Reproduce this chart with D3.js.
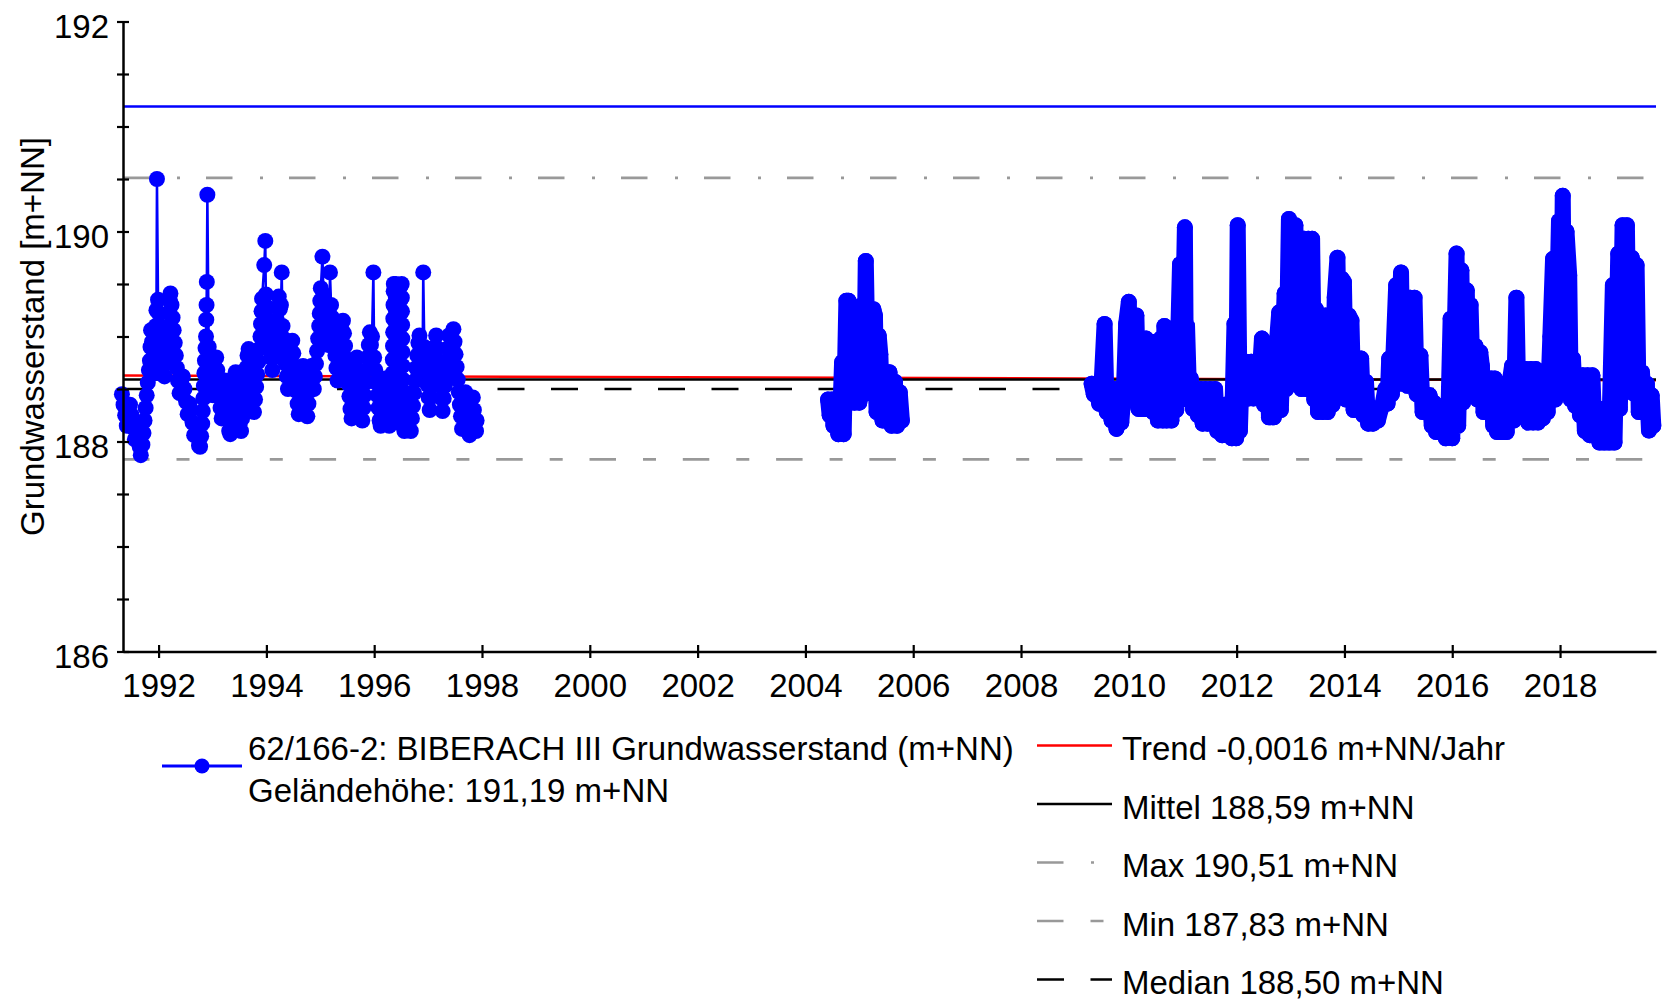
<!DOCTYPE html>
<html>
<head>
<meta charset="utf-8">
<script src="https://cdn.jsdelivr.net/npm/d3@7"></script>
<style>
  body { margin: 0; background: #fff; }
  svg { display: block; font-family: "Liberation Sans", Arial, sans-serif; }
</style>
</head>
<body>
<script>
/*
------------------------------
DATA: groundwater level 62/166-2 BIBERACH III, [decimal year, m+NN]
------------------------------
*/
// manual readings 1991-1997 (single high readings show as thin spikes)
const seg1991 = [
  [1991.32,188.45],[1991.35,188.35],[1991.38,188.25],[1991.41,188.15],[1991.44,188.25],[1991.47,188.35],
  [1991.50,188.25],[1991.53,188.13],[1991.56,188.02],[1991.59,188.12],[1991.62,188.05],[1991.65,187.95],
  [1991.67,187.87],[1991.70,187.97],[1991.72,188.08],[1991.74,188.20],[1991.76,188.32],[1991.78,188.44],
  [1991.80,188.56],[1991.82,188.68],[1991.84,188.77],[1991.85,188.90],[1991.86,189.06],[1991.88,188.95],
  [1991.90,188.80],[1991.92,188.65],[1991.93,188.80],[1991.94,188.95],[1991.95,189.10],[1991.96,189.25],
  [1991.97,190.50],[1991.99,189.35],
  [1992.01,189.22],[1992.03,189.10],[1992.05,188.98],[1992.07,188.86],[1992.09,188.74],[1992.11,188.62],
  [1992.13,188.74],[1992.15,188.86],[1992.17,188.98],[1992.19,189.10],[1992.20,189.22],[1992.21,189.34],
  [1992.22,189.41],[1992.24,189.30],[1992.26,189.18],[1992.28,189.06],[1992.30,188.94],[1992.32,188.82],
  [1992.34,188.70],[1992.36,188.58],[1992.39,188.46],[1992.42,188.56],[1992.45,188.62],[1992.48,188.50],
  [1992.51,188.38],[1992.54,188.26],[1992.57,188.36],[1992.60,188.30],[1992.63,188.18],[1992.66,188.06],
  [1992.69,188.16],[1992.72,188.06],[1992.75,187.96],[1992.77,187.95],[1992.79,188.05],[1992.81,188.17],
  [1992.82,188.29],[1992.83,188.41],[1992.84,188.53],[1992.85,188.65],[1992.86,188.77],[1992.87,188.89],
  [1992.88,189.00],[1992.885,189.16],[1992.89,189.30],[1992.895,189.52],[1992.905,190.35],[1992.93,188.90],
  [1992.95,188.78],[1992.97,188.66],[1992.99,188.54],[1993.01,188.44],[1993.03,188.56],[1993.05,188.70],
  [1993.07,188.80],[1993.09,188.68],[1993.11,188.56],[1993.13,188.44],[1993.15,188.32],[1993.17,188.22],
  [1993.19,188.34],[1993.21,188.46],[1993.23,188.58],[1993.25,188.46],[1993.27,188.34],[1993.29,188.22],
  [1993.31,188.10],[1993.33,188.07],[1993.35,188.18],[1993.37,188.30],[1993.39,188.42],[1993.41,188.54],
  [1993.43,188.66],[1993.45,188.54],[1993.47,188.42],[1993.49,188.30],[1993.51,188.18],[1993.53,188.10],
  [1993.55,188.22],[1993.57,188.34],[1993.59,188.46],[1993.61,188.58],[1993.63,188.70],[1993.65,188.82],
  [1993.67,188.88],[1993.69,188.76],[1993.71,188.64],[1993.73,188.52],[1993.75,188.40],[1993.77,188.28],
  [1993.79,188.40],[1993.81,188.52],[1993.83,188.64],[1993.85,188.76],[1993.87,188.88],[1993.89,189.00],
  [1993.90,189.12],[1993.91,189.24],[1993.92,189.36],[1993.96,189.68],[1993.98,189.91],[1993.99,189.40],
  [1994.01,189.28],[1994.03,189.16],[1994.05,189.04],[1994.07,188.92],[1994.09,188.80],[1994.11,188.68],
  [1994.13,188.80],[1994.15,188.92],[1994.17,189.04],[1994.19,189.16],[1994.21,189.28],[1994.23,189.38],
  [1994.25,189.26],[1994.27,189.30],[1994.285,189.61],[1994.30,189.10],[1994.32,188.98],[1994.34,188.86],
  [1994.36,188.74],[1994.38,188.62],[1994.40,188.50],[1994.42,188.62],[1994.44,188.74],[1994.46,188.86],
  [1994.48,188.96],[1994.50,188.84],[1994.52,188.72],[1994.54,188.60],[1994.56,188.48],[1994.58,188.36],
  [1994.60,188.26],[1994.62,188.38],[1994.64,188.50],[1994.66,188.62],[1994.68,188.72],[1994.70,188.60],
  [1994.72,188.48],[1994.74,188.36],[1994.76,188.24],[1994.78,188.36],[1994.80,188.48],[1994.82,188.60],
  [1994.84,188.72],[1994.86,188.60],[1994.88,188.50],[1994.90,188.62],[1994.92,188.74],[1994.94,188.86],
  [1994.96,188.98],[1994.98,189.10],[1994.99,189.22],[1995.00,189.34],[1995.01,189.46],[1995.04,189.76],
  [1995.06,189.40],[1995.08,189.28],[1995.10,189.16],[1995.12,189.04],[1995.14,188.92],[1995.16,189.04],
  [1995.17,189.20],[1995.18,189.61],[1995.20,189.30],[1995.22,189.18],[1995.24,189.06],[1995.26,188.94],
  [1995.28,188.82],[1995.30,188.70],[1995.32,188.58],[1995.34,188.70],[1995.36,188.82],[1995.38,188.94],
  [1995.40,189.06],[1995.42,189.15],[1995.44,189.03],[1995.46,188.91],[1995.48,188.79],[1995.50,188.67],
  [1995.52,188.55],[1995.54,188.43],[1995.56,188.31],[1995.58,188.22],[1995.60,188.34],[1995.62,188.46],
  [1995.64,188.58],[1995.66,188.70],[1995.68,188.80],[1995.70,188.68],[1995.72,188.56],[1995.74,188.44],
  [1995.76,188.32],[1995.78,188.20],[1995.80,188.32],[1995.82,188.44],[1995.84,188.56],[1995.86,188.68],
  [1995.88,188.80],[1995.90,188.92],[1995.92,189.04],[1995.94,188.92],[1995.96,189.00],[1995.985,189.61],
  [1996.00,188.80],[1996.02,188.68],[1996.04,188.56],[1996.06,188.44],[1996.08,188.32],[1996.10,188.20],
  [1996.12,188.15],[1996.14,188.27],[1996.16,188.39],[1996.18,188.51],[1996.20,188.60],[1996.22,188.48],
  [1996.24,188.36],[1996.26,188.24],[1996.28,188.15],[1996.30,188.27],[1996.32,188.39],
  [1996.340,188.52],[1996.343,188.65],[1996.346,188.78],[1996.349,188.91],[1996.352,189.04],[1996.355,189.17],
  [1996.358,189.30],[1996.361,189.43],[1996.364,189.50],
  [1996.400,189.50],[1996.403,189.37],[1996.406,189.24],[1996.409,189.11],[1996.412,188.98],[1996.415,188.85],
  [1996.418,188.72],[1996.421,188.59],[1996.424,188.46],[1996.427,188.33],[1996.430,188.20],[1996.433,188.18],
  [1996.460,188.18],[1996.463,188.31],[1996.466,188.44],[1996.469,188.57],[1996.472,188.70],[1996.475,188.83],
  [1996.478,188.96],[1996.481,189.09],[1996.484,189.22],[1996.487,189.35],[1996.490,189.48],
  [1996.510,189.50],[1996.513,189.37],[1996.516,189.24],[1996.519,189.11],[1996.522,188.98],[1996.525,188.85],
  [1996.528,188.72],[1996.531,188.59],[1996.534,188.46],[1996.537,188.33],[1996.540,188.20],
  [1996.56,188.10],[1996.58,188.22],[1996.60,188.34],[1996.62,188.46],[1996.64,188.34],[1996.66,188.22],
  [1996.68,188.10],[1996.70,188.22],[1996.72,188.34],[1996.74,188.46],[1996.76,188.58],[1996.78,188.70],
  [1996.80,188.82],[1996.82,188.94],[1996.84,189.01],[1996.86,188.89],[1996.88,188.77],[1996.90,188.90],
  [1996.91,189.61],[1996.93,188.90],[1996.95,188.78],[1996.97,188.66],[1996.99,188.54],[1997.01,188.42],
  [1997.03,188.30],[1997.05,188.42],[1997.07,188.54],[1997.09,188.66],[1997.11,188.78],[1997.13,188.90],
  [1997.15,189.01],[1997.17,188.89],[1997.19,188.77],[1997.21,188.65],[1997.23,188.53],[1997.25,188.41],
  [1997.27,188.29],[1997.29,188.41],[1997.31,188.53],[1997.33,188.65],[1997.35,188.77],[1997.37,188.89],
  [1997.39,189.01],[1997.41,188.89],[1997.43,188.77],[1997.45,188.89],[1997.47,189.07],[1997.49,188.95],
  [1997.51,188.83],[1997.53,188.71],[1997.55,188.59],[1997.57,188.47],[1997.59,188.35],[1997.61,188.24],
  [1997.63,188.12],[1997.65,188.24],[1997.67,188.36],[1997.69,188.47],[1997.71,188.36],[1997.73,188.24],
  [1997.75,188.12],[1997.77,188.06],[1997.79,188.18],[1997.81,188.30],[1997.83,188.42],[1997.85,188.30],
  [1997.87,188.18],[1997.89,188.10],[1997.90,188.20]
];

// logger readings 2004-2005 (dense, the dots merge into one band)
const seg2004 = [
  [2004.42,188.40],[2004.45,188.25],[2004.49,188.40],[2004.52,188.15],[2004.57,188.35],[2004.61,188.07],
  [2004.65,188.30],[2004.68,188.755],[2004.71,188.07],[2004.76,189.34],[2004.80,189.34],[2004.83,188.37],
  [2004.87,189.20],[2004.91,188.37],[2004.96,189.20],[2005.00,188.37],[2005.05,189.30],[2005.09,188.45],
  [2005.12,189.72],[2005.16,188.55],[2005.21,189.26],[2005.24,188.50],[2005.26,189.26],[2005.29,189.20],
  [2005.32,188.28],[2005.36,189.01],[2005.39,188.83],[2005.43,188.20],[2005.48,188.66],[2005.52,188.20],
  [2005.56,188.66],[2005.60,188.15],[2005.66,188.57],[2005.70,188.15],[2005.75,188.47],[2005.79,188.20]
];

// logger readings 2009-2019
const seg2009 = [
  [2009.31,188.55],[2009.35,188.45],[2009.40,188.53],[2009.45,188.36],[2009.50,188.60],[2009.55,189.12],
  [2009.59,188.28],[2009.64,188.50],[2009.68,188.20],[2009.73,188.50],[2009.77,188.12],[2009.82,188.50],
  [2009.86,188.18],[2009.91,188.50],[2009.95,189.12],[2010.00,189.33],[2010.03,188.50],[2010.08,189.20],
  [2010.11,188.50],[2010.14,189.20],[2010.18,188.31],[2010.23,188.98],[2010.27,188.31],[2010.32,188.98],
  [2010.36,188.31],[2010.41,188.95],[2010.45,188.28],[2010.50,188.95],[2010.54,188.20],[2010.59,188.98],
  [2010.63,188.20],[2010.66,189.10],[2010.70,188.20],[2010.75,189.00],[2010.79,188.20],[2010.84,189.00],
  [2010.88,188.30],[2010.95,189.69],[2010.98,188.40],[2011.04,190.04],[2011.06,188.455],[2011.08,189.10],
  [2011.12,188.40],[2011.15,188.60],[2011.19,188.31],[2011.24,188.50],[2011.28,188.25],[2011.33,188.50],
  [2011.37,188.17],[2011.42,188.50],[2011.46,188.17],[2011.51,188.50],[2011.55,188.17],[2011.60,188.50],
  [2011.64,188.10],[2011.69,188.35],[2011.73,188.06],[2011.78,188.35],[2011.82,188.06],[2011.87,188.35],
  [2011.91,188.03],[2011.96,189.12],[2011.99,188.03],[2012.02,190.06],[2012.06,188.10],[2012.10,188.76],
  [2012.14,188.43],[2012.18,188.76],[2012.22,188.41],[2012.27,188.76],[2012.31,188.41],[2012.36,188.76],
  [2012.40,188.41],[2012.47,188.98],[2012.51,188.35],[2012.56,188.90],[2012.60,188.23],[2012.65,188.90],
  [2012.69,188.23],[2012.74,188.90],[2012.79,189.23],[2012.82,188.30],[2012.89,189.41],[2012.92,188.50],
  [2012.97,190.12],[2013.01,188.55],[2013.05,190.06],[2013.09,190.06],[2013.12,188.55],[2013.16,189.93],
  [2013.20,188.50],[2013.25,189.93],[2013.28,188.50],[2013.33,189.93],[2013.37,188.50],[2013.40,189.93],
  [2013.44,188.40],[2013.47,189.26],[2013.51,188.28],[2013.56,189.20],[2013.60,188.28],[2013.65,189.20],
  [2013.69,188.28],[2013.74,189.20],[2013.78,188.35],[2013.82,189.37],[2013.87,189.75],[2013.91,188.48],
  [2013.95,189.55],[2013.99,189.52],[2014.03,188.40],[2014.08,189.20],[2014.13,189.15],[2014.17,188.30],
  [2014.22,188.79],[2014.26,188.30],[2014.31,188.79],[2014.35,188.25],[2014.40,188.57],[2014.44,188.17],
  [2014.49,188.30],[2014.53,188.17],[2014.58,188.25],[2014.62,188.20],[2014.67,188.30],[2014.71,188.36],
  [2014.76,188.50],[2014.80,188.36],[2014.83,188.79],[2014.88,188.45],[2014.96,189.49],[2014.99,188.55],
  [2015.05,189.61],[2015.08,188.55],[2015.13,189.37],[2015.17,188.53],[2015.22,189.37],[2015.26,188.53],
  [2015.30,189.37],[2015.34,188.45],[2015.41,188.82],[2015.45,188.28],[2015.50,188.44],[2015.54,188.28],
  [2015.58,188.44],[2015.62,188.15],[2015.66,188.37],[2015.70,188.09],[2015.75,188.30],[2015.79,188.09],
  [2015.84,188.30],[2015.88,188.03],[2015.93,188.30],[2015.97,189.17],[2016.00,188.03],[2016.08,189.79],
  [2016.11,188.15],[2016.17,189.63],[2016.20,188.37],[2016.27,189.44],[2016.30,188.53],[2016.34,189.30],
  [2016.38,188.53],[2016.43,188.91],[2016.47,188.40],[2016.52,188.85],[2016.55,188.72],[2016.58,188.28],
  [2016.63,188.60],[2016.67,188.28],[2016.72,188.60],[2016.76,188.15],[2016.79,188.60],[2016.83,188.09],
  [2016.88,188.55],[2016.92,188.09],[2016.97,188.55],[2017.01,188.09],[2017.06,188.55],[2017.11,188.72],
  [2017.14,188.20],[2017.19,189.37],[2017.23,188.28],[2017.28,188.69],[2017.32,188.28],[2017.37,188.69],
  [2017.41,188.18],[2017.46,188.69],[2017.50,188.18],[2017.55,188.69],[2017.59,188.18],[2017.64,188.60],
  [2017.68,188.22],[2017.73,188.60],[2017.77,188.28],[2017.82,189.00],[2017.87,189.74],[2017.91,188.40],
  [2017.98,190.10],[2018.02,188.63],[2018.05,190.34],[2018.08,188.63],[2018.12,190.00],[2018.17,189.58],
  [2018.20,188.40],[2018.24,188.79],[2018.28,188.34],[2018.33,188.63],[2018.37,188.25],[2018.42,188.63],
  [2018.46,188.10],[2018.51,188.63],[2018.55,188.06],[2018.60,188.63],[2018.64,188.06],[2018.69,188.31],
  [2018.73,187.99],[2018.78,188.31],[2018.82,187.99],[2018.87,188.31],[2018.91,187.99],[2018.98,189.49],
  [2019.01,187.99],[2019.08,189.79],[2019.11,188.31],[2019.16,190.06],[2019.20,188.58],[2019.24,190.06],
  [2019.28,188.50],[2019.33,189.75],[2019.37,188.455],[2019.42,189.68],[2019.46,188.28],[2019.52,188.66],
  [2019.56,188.28],[2019.61,188.55],[2019.65,188.105],[2019.70,188.44],[2019.73,188.15]
];

const yearTicks = [1992, 1994, 1996, 1998, 2000, 2002, 2004, 2006, 2008, 2010, 2012, 2014, 2016, 2018];
const levelTicks = [186, 186.5, 187, 187.5, 188, 188.5, 189, 189.5, 190, 190.5, 191, 191.5, 192];
const levelLabels = [186, 188, 190, 192];
const timeRange = [1991.34, 2019.78];

const gelaende = 191.19;
const stats = { mittel: 188.59, max: 190.51, min: 187.83, median: 188.50 };
const trend = { start: 188.628, perYear: -0.0016 };

const seriesLabel = ["62/166-2: BIBERACH III Grundwasserstand (m+NN)", "Geländehöhe: 191,19 m+NN"];
const legendLabels = ["Trend -0,0016 m+NN/Jahr", "Mittel 188,59 m+NN", "Max 190,51 m+NN", "Min 187,83 m+NN", "Median 188,50 m+NN"];
const yTitle = "Grundwasserstand [m+NN]";

/*
------------------------------
METHOD: canvas and scales
------------------------------
*/
const width = 1664
const height = 1001
const margin = { top: 21.5, left: 123, right: 8, bottom: 349.5 }

const blue = "#0000ff"
const gray = "#999999"
const dotR = 8
const fontSize = "33px"

const svg = d3.select("body").append("svg")
  .attr("width", width)
  .attr("height", height)

const x = d3.scaleLinear().domain(timeRange).range([margin.left, width - margin.right])
const y = d3.scaleLinear().domain([186, 192]).range([height - margin.bottom, margin.top])

// line styles for the statistic lines (also used in the legend)
const styles = {
  trend:  { stroke: "red", width: 2.5, dash: null },
  mittel: { stroke: "#000", width: 2.5, dash: null },
  max:    { stroke: gray, width: 2.7, dash: "26.5,27.5,3,26" },
  min:    { stroke: gray, width: 2.7, dash: "26.5,27,13,26.8" },
  median: { stroke: "#000", width: 2.7, dash: "27,26.5" },
}

/*
------------------------------
METHOD: reference lines (behind the data)
------------------------------
*/
const refs = svg.append("g")

refs.append("line")
  .attr("x1", x(timeRange[0])).attr("x2", x(timeRange[1]))
  .attr("y1", y(gelaende)).attr("y2", y(gelaende))
  .attr("stroke", blue).attr("stroke-width", 2.5)

function hline(value, st) {
  refs.append("line")
    .attr("x1", x(timeRange[0])).attr("x2", x(timeRange[1]))
    .attr("y1", y(value)).attr("y2", y(value))
    .attr("stroke", st.stroke)
    .attr("stroke-width", st.width)
    .attr("stroke-dasharray", st.dash)
}
hline(stats.max, styles.max)
hline(stats.min, styles.min)
hline(stats.median, styles.median)

refs.append("line")
  .attr("x1", x(timeRange[0])).attr("x2", x(timeRange[1]))
  .attr("y1", y(trend.start))
  .attr("y2", y(trend.start + trend.perYear * (timeRange[1] - timeRange[0])))
  .attr("stroke", styles.trend.stroke).attr("stroke-width", styles.trend.width)

hline(stats.mittel, styles.mittel)

/*
------------------------------
METHOD: the measured series
------------------------------
*/
const line = d3.line().x(d => x(d[0])).y(d => y(d[1]))
const plot = svg.append("g")

// manual part: thin line + dots
plot.append("path")
  .datum(seg1991)
  .attr("fill", "none")
  .attr("stroke", blue)
  .attr("stroke-width", 2.5)
  .attr("d", line)

// daily logger parts: the dots overlap so much they sweep a band as wide as a dot
;[seg2004, seg2009].forEach(seg => {
  plot.append("path")
    .datum(seg)
    .attr("fill", "none")
    .attr("stroke", blue)
    .attr("stroke-width", dotR * 2)
    .attr("stroke-linejoin", "round")
    .attr("stroke-linecap", "round")
    .attr("d", line)
})

plot.append("g")
  .attr("fill", blue)
  .selectAll("circle")
  .data(seg1991.concat(seg2004, seg2009))
  .join("circle")
  .attr("cx", d => x(d[0]))
  .attr("cy", d => y(d[1]))
  .attr("r", dotR)

/*
------------------------------
METHOD: axes
------------------------------
*/
const xAxis = svg.append("g")
  .attr("transform", `translate(0,${y(186)})`)
  .call(d3.axisBottom(x).tickValues(yearTicks).tickFormat(d3.format("d")).tickSizeOuter(0))

const yAxis = svg.append("g")
  .attr("transform", `translate(${x(timeRange[0])},0)`)
  .call(d3.axisLeft(y).tickValues(levelTicks)
    .tickFormat(d => levelLabels.includes(d) ? d : "").tickSizeOuter(0))

;[xAxis, yAxis].forEach(a => {
  a.attr("font-size", null).attr("font-family", null)
  a.select(".domain").attr("stroke", "#000").attr("stroke-width", 2.5)
  a.selectAll(".tick line").attr("stroke", "#000").attr("stroke-width", 2.2)
  a.selectAll(".tick text").attr("fill", "#000").style("font-size", fontSize)
})

xAxis.selectAll(".tick line").attr("y1", -6.5).attr("y2", 6.5)
xAxis.selectAll(".tick text").attr("y", 45.5).attr("dy", null)

yAxis.selectAll(".tick line").attr("x1", -6).attr("x2", 6)
yAxis.selectAll(".tick text").attr("x", -14).attr("y", 16).attr("dy", null)

svg.append("text")
  .attr("transform", `translate(44,${(y(186) + y(192)) / 2}) rotate(-90)`)
  .attr("text-anchor", "middle")
  .style("font-size", fontSize)
  .text(yTitle)

/*
------------------------------
METHOD: legend
------------------------------
*/
const legend = svg.append("g").style("font-size", fontSize).attr("fill", "#000")

legend.append("line")
  .attr("x1", 162).attr("x2", 242).attr("y1", 766).attr("y2", 766)
  .attr("stroke", blue).attr("stroke-width", 3)
legend.append("circle").attr("cx", 202).attr("cy", 766).attr("r", 7.5).attr("fill", blue)

legend.selectAll("text.series")
  .data(seriesLabel)
  .join("text")
  .attr("class", "series")
  .attr("x", 248)
  .attr("y", (d, i) => 760 + i * 42)
  .text(d => d)

const rowStyles = [styles.trend, styles.mittel, styles.max, styles.min, styles.median]

const rows = legend.selectAll("g.row")
  .data(legendLabels)
  .join("g")
  .attr("class", "row")
  .attr("transform", (d, i) => `translate(0,${760 + i * 58.5})`)

rows.append("line")
  .attr("x1", 1037).attr("x2", 1112)
  .attr("y1", -14.5).attr("y2", -14.5)
  .attr("stroke", (d, i) => rowStyles[i].stroke)
  .attr("stroke-width", (d, i) => rowStyles[i].width)
  .attr("stroke-dasharray", (d, i) => rowStyles[i].dash)

rows.append("text")
  .attr("x", 1122)
  .text(d => d)
</script>
</body>
</html>
